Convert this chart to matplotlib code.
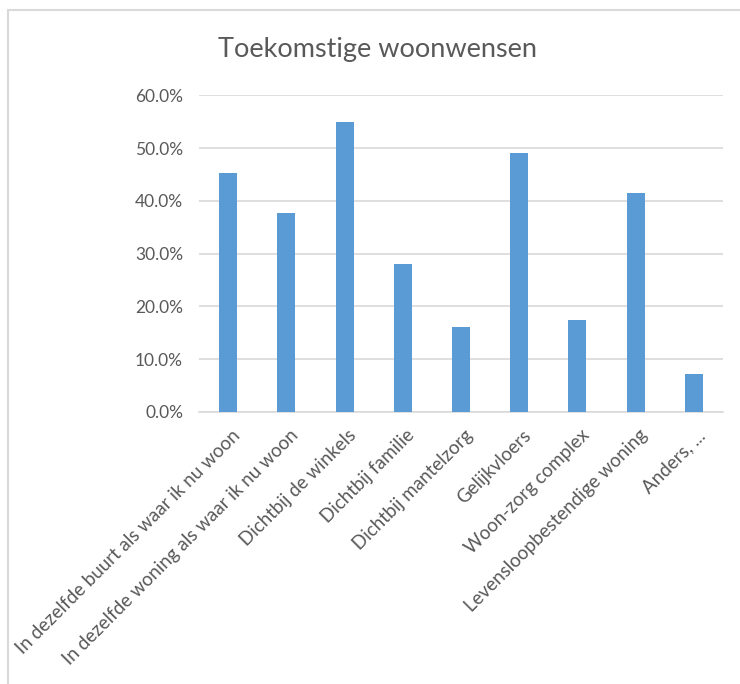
import matplotlib
matplotlib.use("Agg")
import matplotlib.pyplot as plt
import matplotlib.transforms as mtransforms
from matplotlib.lines import Line2D
from matplotlib.ticker import FuncFormatter

plt.rcParams['font.family'] = ['Lato', 'DejaVu Sans']

categories = [
    "In dezelfde buurt als waar ik nu woon",
    "In dezelfde woning als waar ik nu woon",
    "Dichtbij de winkels",
    "Dichtbij familie",
    "Dichtbij mantelzorg",
    "Gelijkvloers",
    "Woon-zorg complex",
    "Levensloopbestendige woning",
    "Anders, ...",
]
values = [45.2, 37.6, 54.9, 28.0, 16.1, 49.1, 17.4, 41.4, 7.2]
yticks = [0, 10, 20, 30, 40, 50, 60]

text_col = "#595959"
grid_col = "#d9d9d9"
bar_col = "#5b9bd5"

fig = plt.figure(figsize=(7.4, 6.84), dpi=100)
ax = fig.add_axes([0.269, 0.398, 0.708, 0.4627])

x = list(range(len(categories)))
ax.bar(x, values, width=0.31, color=bar_col, zorder=3)

ax.set_xlim(-0.5, len(categories) - 0.5)
ax.set_ylim(0, 60)
ax.set_yticks(yticks)
ax.yaxis.set_major_formatter(FuncFormatter(lambda v, p: "%.1f%%" % v))
ax.grid(axis='y', color=grid_col, linewidth=1.2, zorder=0)
for s in ['top', 'right', 'left']:
    ax.spines[s].set_visible(False)
ax.spines['bottom'].set_color(grid_col)
ax.spines['bottom'].set_linewidth(1.2)
ax.tick_params(axis='both', length=0, labelcolor=text_col)
ax.tick_params(axis='y', pad=11.5, labelsize=12.5)
ax.tick_params(axis='x', labelsize=13.5)

ax.set_xticks(x)
ax.set_xticklabels(categories, rotation=45, ha='right', va='center',
                   rotation_mode='anchor')
offset = mtransforms.ScaledTranslation(0.09, -0.16, fig.dpi_scale_trans)
for lbl in ax.get_xticklabels():
    lbl.set_transform(lbl.get_transform() + offset)

fig.text(378 / 740, (684 - 57) / 684, "Toekomstige woonwensen",
         ha='center', va='baseline', fontsize=19.5, color=text_col)

# chart frame (left and top edges visible)
fig.add_artist(Line2D([8 / 740, 8 / 740], [0, 674 / 684], color=grid_col,
                      linewidth=1.5, transform=fig.transFigure))
fig.add_artist(Line2D([8 / 740, 1], [674 / 684, 674 / 684], color=grid_col,
                      linewidth=1.5, transform=fig.transFigure))

fig.savefig("out.png", dpi=100, facecolor="white")
